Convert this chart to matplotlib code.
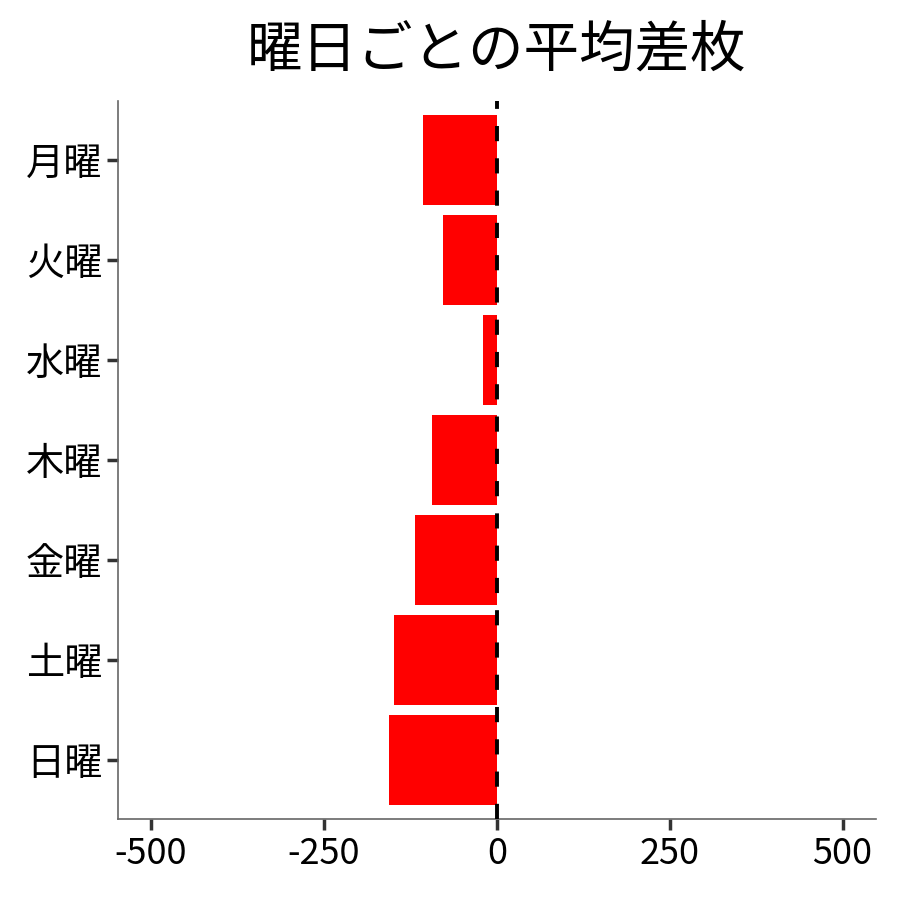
import matplotlib

matplotlib.use("Agg")
from matplotlib import pyplot as plt  # noqa: E402

plt.rcParams["font.family"] = ["Noto Sans CJK JP", "DejaVu Sans"]

# data
weekdays = ["月曜", "火曜", "水曜", "木曜", "金曜", "土曜", "日曜"]
avg_diff = [-107, -78, -20, -94, -118, -149, -156]
x_ticks = [-500, -250, 0, 250, 500]
x_labels = ["-500", "-250", "0", "250", "500"]

fig, ax = plt.subplots(figsize=(9, 9), dpi=100)
fig.subplots_adjust(left=0.131, right=0.973, top=0.888, bottom=0.09)

ypos = list(range(len(weekdays)))[::-1]
ax.barh(ypos, avg_diff, height=0.9, color="#ff0000", zorder=2)
ax.axvline(0, color="black", linewidth=2.8, linestyle=(0, (3.9, 4.4)), zorder=3)

ax.set_xlim(-548, 548)
ax.set_ylim(-0.59, len(weekdays) - 1 + 0.59)
ax.set_xticks(x_ticks)
ax.set_xticklabels(x_labels)
ax.set_yticks(ypos)
ax.set_yticklabels(weekdays)

for side in ("top", "right"):
    ax.spines[side].set_visible(False)
for side in ("left", "bottom"):
    ax.spines[side].set_color("#666666")
    ax.spines[side].set_linewidth(1.2)

ax.tick_params(axis="both", length=8, width=2.5, color="#333333",
               labelsize=26, labelcolor="black")
ax.tick_params(axis="y", pad=3, labelsize=27.5)
ax.tick_params(axis="x", pad=4)

ax.set_title("曜日ごとの平均差枚", fontsize=40, pad=25)

fig.savefig("out.png", dpi=100)
plt.close(fig)
